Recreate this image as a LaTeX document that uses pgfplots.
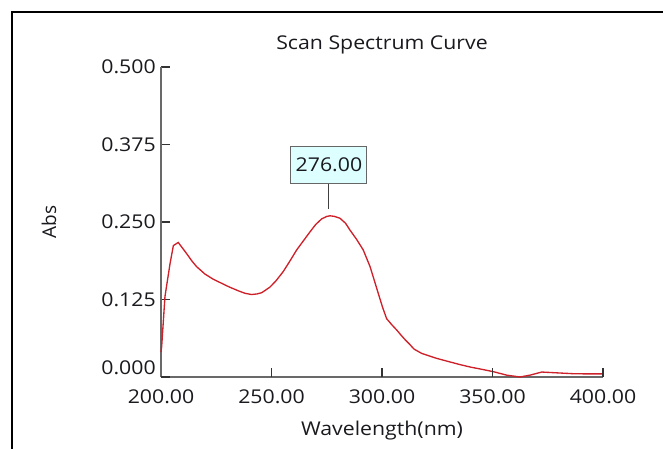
\documentclass[border=0pt]{standalone}
\usepackage{fontspec}
\setmainfont{Open Sans}
\usepackage{pgfplots}
\pgfplotsset{compat=1.18}
\definecolor{curvered}{RGB}{205,32,40}
\definecolor{axgray}{RGB}{105,105,105}
\definecolor{boxcyan}{RGB}{222,255,255}
\definecolor{txt}{RGB}{25,25,30}
\begin{document}
\begin{tikzpicture}
% page: 663x449 px, 1px = 0.75pt
\path[use as bounding box] (0,0) rectangle (497.25pt,336.75pt);
\draw[line width=1.5pt] (9pt,0) -- (9pt,327.75pt) -- (497.25pt,327.75pt);
\begin{axis}[
  at={(120.75pt,54pt)}, anchor=south west,
  scale only axis, width=331.5pt, height=232.5pt,
  xmin=200, xmax=400, ymin=0, ymax=0.5,
  enlargelimits=false,
  axis lines=left,
  axis line style={-, axgray, line width=1.1pt},
  tick align=inside, major tick length=6.5pt,
  tick style={black!80, line width=0.9pt},
  xtick={200,250,300,350,400},
  ytick={0.125,0.25,0.375,0.5},
  extra y ticks={0},
  extra y tick style={yticklabel style={yshift=6.75pt}},
  /pgf/number format/assume math mode=true,
  font=\fontsize{14.25}{17}\selectfont,
  every tick label/.append style={txt, xscale=1.12},
  xticklabel style={yshift=-6pt, /pgf/number format/fixed, /pgf/number format/fixed zerofill, /pgf/number format/precision=2},
  yticklabel style={/pgf/number format/fixed, /pgf/number format/fixed zerofill, /pgf/number format/precision=3},
  title={Scan Spectrum Curve},
  title style={at={(0.5,1)}, anchor=center, yshift=10.5pt, txt, xscale=1.12},
  xlabel={Wavelength(nm)},
  xlabel style={at={(0.5,0)}, anchor=center, yshift=-40.5pt, txt, xscale=1.12},
  ylabel={Abs},
  ylabel style={at={(0,0.5)}, anchor=center, yshift=84pt, txt},
  clip=false,
]
\addplot[curvered, line width=1pt] coordinates {
 (200,0.040) (200.3,0.049) (201.8,0.130) (204.1,0.183) (205.6,0.212)
 (207.8,0.217) (209.5,0.209) (211.6,0.199) (214,0.187) (216.1,0.178)
 (219.9,0.166) (223.5,0.158) (227.5,0.151) (231,0.145) (235,0.139)
 (238,0.135) (241,0.133) (243.5,0.134) (245.6,0.136) (249.3,0.145)
 (252,0.155) (255.3,0.170) (258.5,0.188) (261.4,0.205) (264.5,0.220)
 (267.4,0.234) (270,0.246) (272.7,0.255) (275,0.259) (276.5,0.260)
 (278.5,0.259) (281,0.256) (283.5,0.248) (285.5,0.237) (288.5,0.222)
 (291.5,0.205) (294.6,0.178) (296.5,0.156) (298.3,0.135) (300.3,0.112)
 (302.1,0.094) (304.5,0.084) (306.6,0.076) (308.5,0.068) (310.5,0.060)
 (312.7,0.052) (314.5,0.045) (318,0.038) (324.8,0.030) (330,0.025)
 (335.3,0.020) (340,0.016) (344.3,0.013) (350.4,0.0086) (356.4,0.003)
 (362.4,0.000) (367,0.003) (372.3,0.008) (377.5,0.007) (386.6,0.0053)
 (393,0.005) (400,0.005)
};
\coordinate (pk) at (axis cs:276,0.2597);
\coordinate (t1) at (axis cs:250,0);
\coordinate (t2) at (axis cs:300,0);
\coordinate (t3) at (axis cs:350,0);
\coordinate (t4) at (axis cs:400,0);
\end{axis}
% inward x ticks, drawn again so they show clearly
\foreach \t in {t1,t2,t3,t4}
  \draw[black!80, line width=0.9pt] (\t) -- ([yshift=6.5pt]\t);
% peak marker
\draw[black!75, line width=0.75pt] ([yshift=5.25pt]pk) -- ([yshift=24pt]pk)
  node[anchor=south, draw=black!60, fill=boxcyan, line width=0.75pt,
       minimum width=57pt, minimum height=27.75pt, inner sep=0pt, text=txt,
       font=\fontsize{14.25}{17}\selectfont] {\scalebox{1.12}[1]{276.00}};
\end{tikzpicture}
\end{document}
